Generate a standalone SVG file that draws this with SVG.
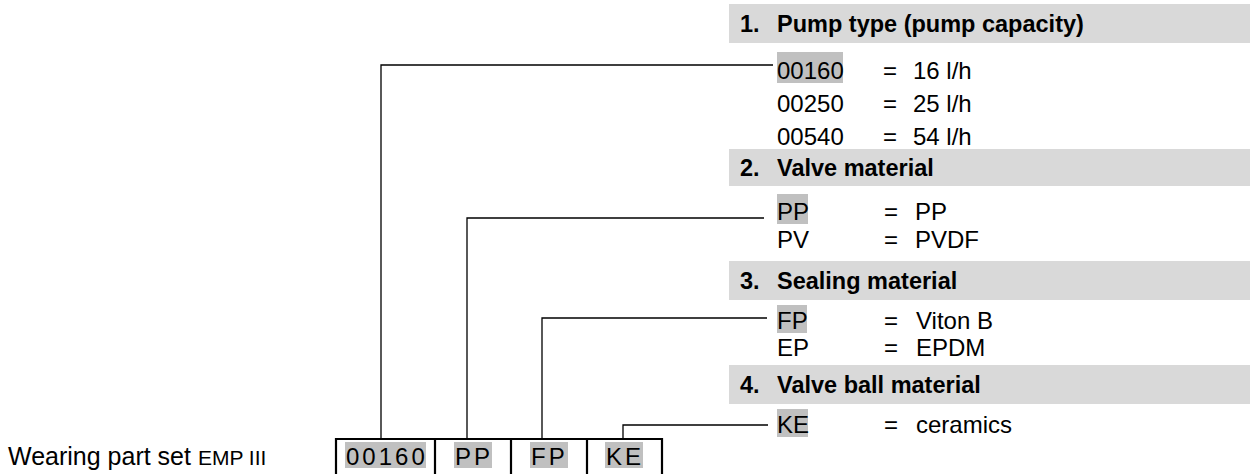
<svg xmlns="http://www.w3.org/2000/svg" width="1250" height="474" viewBox="0 0 1250 474">
<style>
.t{font-family:"Liberation Sans",Arial,sans-serif;font-size:24px;fill:#000}
.b{font-family:"Liberation Sans",Arial,sans-serif;font-size:23.5px;font-weight:bold;fill:#000}
.hdr{fill:#d9d9d9}
.hl{fill:#c0c0c0}
.conn{stroke:#000;stroke-width:1.3;fill:none}
.box{stroke:#000;stroke-width:2.2;fill:none}
.bt{font-family:"Liberation Sans",Arial,sans-serif;font-size:24px;fill:#000;letter-spacing:3px}
</style>
<rect width="1250" height="474" fill="#fff"/>
<g id="connectors">
<polyline class="conn" points="381,439 381,65 773,65"/>
<polyline class="conn" points="467,439 467,218 764,218"/>
<polyline class="conn" points="542,439 542,318 767,318"/>
<polyline class="conn" points="623,439 623,425 768,425"/>
</g>
<g id="section1">
<rect class="hdr" x="729" y="4" width="521" height="39"/>
<text class="b" x="740" y="32">1.</text>
<text class="b" x="777" y="32">Pump type (pump capacity)</text>
<rect class="hl" x="777" y="52" width="66" height="31"/>
<text class="t" x="777" y="79">00160</text><text class="t" x="883" y="79">=</text><text class="t" x="913" y="79">16 l/h</text>
<text class="t" x="777" y="112">00250</text><text class="t" x="883" y="112">=</text><text class="t" x="913" y="112">25 l/h</text>
<text class="t" x="777" y="145">00540</text><text class="t" x="883" y="145">=</text><text class="t" x="913" y="145">54 l/h</text>
</g>
<g id="section2">
<rect class="hdr" x="729" y="149" width="521" height="37"/>
<text class="b" x="740" y="176">2.</text>
<text class="b" x="777" y="176">Valve material</text>
<rect class="hl" x="777" y="194" width="31" height="30"/>
<text class="t" x="777" y="220">PP</text><text class="t" x="884" y="220">=</text><text class="t" x="915" y="220">PP</text>
<text class="t" x="777" y="248">PV</text><text class="t" x="884" y="248">=</text><text class="t" x="915" y="248">PVDF</text>
</g>
<g id="section3">
<rect class="hdr" x="729" y="261" width="521" height="39"/>
<text class="b" x="740" y="289">3.</text>
<text class="b" x="777" y="289">Sealing material</text>
<rect class="hl" x="777" y="305" width="30" height="28"/>
<text class="t" x="777" y="329">FP</text><text class="t" x="884" y="329">=</text><text class="t" x="916" y="329">Viton B</text>
<text class="t" x="777" y="356">EP</text><text class="t" x="884" y="356">=</text><text class="t" x="916" y="356">EPDM</text>
</g>
<g id="section4">
<rect class="hdr" x="729" y="365" width="521" height="39"/>
<text class="b" x="740" y="393">4.</text>
<text class="b" x="777" y="393">Valve ball material</text>
<rect class="hl" x="777" y="409" width="31" height="28"/>
<text class="t" x="777" y="433">KE</text><text class="t" x="884" y="433">=</text><text class="t" x="916" y="433">ceramics</text>
</g>
<g id="code">
<text class="t" x="8" y="465" style="font-size:25px">Wearing part set <tspan style="font-size:21px">EMP III</tspan></text>
<rect class="hl" x="345" y="442" width="81" height="26"/>
<rect class="hl" x="454" y="442" width="38" height="26"/>
<rect class="hl" x="530" y="442" width="38" height="26"/>
<rect class="hl" x="605" y="442" width="38" height="26"/>
<path class="box" d="M336,480 V439 H662 V480 M435,439 V480 M511,439 V480 M587,439 V480"/>
<text class="bt" x="346" y="465">00160</text>
<text class="bt" x="455" y="465">PP</text>
<text class="bt" x="531" y="465">FP</text>
<text class="bt" x="606" y="465">KE</text>
</g>
</svg>
